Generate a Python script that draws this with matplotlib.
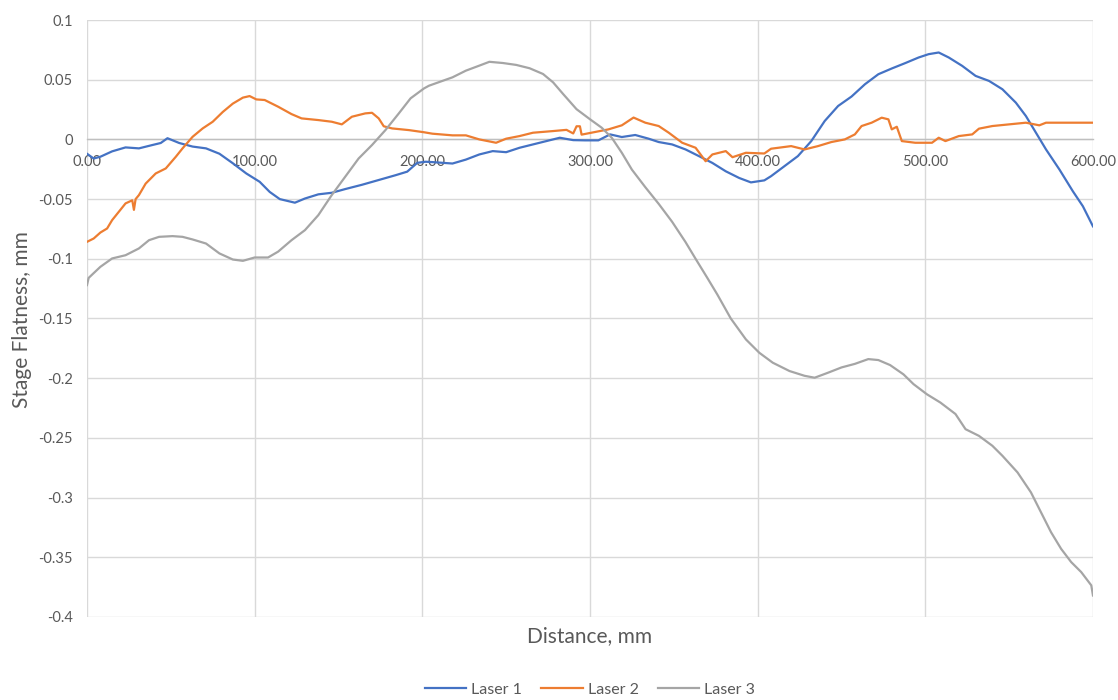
import matplotlib
matplotlib.use("Agg")
import matplotlib.pyplot as plt
from matplotlib.ticker import FixedLocator, FixedFormatter, FormatStrFormatter

plt.rcParams['font.family'] = ['Lato', 'DejaVu Sans']

# Laser 1 profile (distance mm, deviation mm)
laser1_x = [0, 4, 8, 15, 23, 31, 39, 44, 48, 55, 63, 71, 79, 87, 95, 103, 109, 115,
            124, 130, 138, 146, 154, 164, 174, 184, 191, 197, 202, 206, 218, 226, 234,
            242, 250, 258, 266, 274, 282, 290, 297, 305, 312, 319, 327, 335, 341, 349,
            357, 365, 373, 381, 389, 396, 404, 408, 416, 424, 432, 440, 448, 456, 464,
            472, 480, 488, 496, 502, 508, 514, 522, 530, 538, 546, 554, 560, 566, 572,
            580, 588, 594, 600]
laser1_y = [-0.012, -0.016, -0.0145, -0.010, -0.0067, -0.0075, -0.0047, -0.003, 0.001,
            -0.003, -0.006, -0.0075, -0.012, -0.020, -0.0285, -0.0355, -0.044, -0.050,
            -0.053, -0.0495, -0.046, -0.0447, -0.0416, -0.038, -0.034, -0.030, -0.027,
            -0.0196, -0.0187, -0.019, -0.0202, -0.0169, -0.0126, -0.0098, -0.0107, -0.007,
            -0.0042, -0.0014, 0.0014, -0.0006, -0.0008, -0.0008, 0.0042, 0.002, 0.0037,
            0.0006, -0.0022, -0.0042, -0.0084, -0.014, -0.0197, -0.0267, -0.0323, -0.036,
            -0.0343, -0.0308, -0.0224, -0.014, -0.0014, 0.0154, 0.028, 0.0359, 0.0462,
            0.0546, 0.0594, 0.0639, 0.0686, 0.0714, 0.0728, 0.0686, 0.0616, 0.0532, 0.049,
            0.042, 0.0308, 0.0196, 0.0056, -0.0084, -0.0252, -0.0434, -0.056, -0.0728]

# Laser 2 profile
laser2_x = [0, 4, 8, 12, 15, 19, 23, 27, 28, 29, 31, 35, 41, 47, 53, 57, 63, 69, 75, 81,
            87, 93, 97, 101, 106, 114, 122, 128, 138, 146, 152, 158, 166, 170, 174, 177,
            182, 192, 201, 206, 218, 226, 234, 244, 250, 258, 266, 278, 286, 290, 292,
            294, 295, 303, 311, 319, 326, 333, 341, 347, 355, 363, 369, 373, 381, 385,
            393, 404, 408, 420, 428, 436, 444, 452, 458, 462, 468, 474, 478, 480, 483,
            486, 494, 504, 508, 512, 520, 528, 532, 540, 550, 560, 568, 572, 584, 600]
laser2_y = [-0.0858, -0.083, -0.078, -0.0746, -0.0676, -0.0606, -0.0536, -0.051, -0.059,
            -0.050, -0.0466, -0.037, -0.0285, -0.0243, -0.0145, -0.0075, 0.0022, 0.0092,
            0.0148, 0.023, 0.030, 0.035, 0.0363, 0.0335, 0.033, 0.0274, 0.0212, 0.0176,
            0.0162, 0.0148, 0.0126, 0.019, 0.0218, 0.0223, 0.0176, 0.011, 0.0092, 0.0078,
            0.006, 0.0048, 0.0034, 0.0034, 0.0, -0.0028, 0.0006, 0.0028, 0.0056, 0.007,
            0.008, 0.005, 0.011, 0.011, 0.004, 0.0062, 0.0084, 0.0118, 0.0183, 0.014,
            0.0112, 0.0056, -0.0028, -0.007, -0.0183, -0.0126, -0.0098, -0.0149, -0.0112,
            -0.0118, -0.0078, -0.0056, -0.0084, -0.0056, -0.0022, 0.0, 0.0042, 0.0112,
            0.014, 0.0182, 0.0168, 0.0084, 0.0106, -0.0014, -0.0028, -0.0028, 0.0014,
            -0.0014, 0.0028, 0.0042, 0.009, 0.0112, 0.0126, 0.014, 0.0118, 0.014, 0.014,
            0.014]

# Laser 3 profile
laser3_x = [0, 1, 4, 8, 15, 23, 31, 37, 43, 51, 57, 63, 71, 79, 87, 93, 100, 108, 114,
            122, 130, 138, 146, 154, 162, 170, 178, 186, 193, 201, 204, 212, 218, 226,
            234, 240, 248, 256, 264, 272, 278, 284, 292, 300, 307, 313, 319, 325, 333,
            341, 349, 357, 363, 370, 376, 384, 393, 401, 409, 419, 428, 434, 442, 450,
            458, 466, 472, 479, 487, 493, 501, 509, 518, 524, 532, 540, 546, 555, 563,
            569, 575, 581, 587, 593, 599, 600]
laser3_y = [-0.122, -0.116, -0.112, -0.1067, -0.0997, -0.097, -0.0913, -0.0844, -0.0816,
            -0.081, -0.0816, -0.0838, -0.0872, -0.0955, -0.1006, -0.1017, -0.0989, -0.0989,
            -0.094, -0.0844, -0.076, -0.0634, -0.0466, -0.0313, -0.016, -0.0047, 0.0078,
            0.0218, 0.0344, 0.0427, 0.045, 0.049, 0.052, 0.0576, 0.0618, 0.065, 0.064,
            0.0624, 0.0596, 0.0548, 0.0478, 0.038, 0.0253, 0.0169, 0.0098, 0.0014, -0.0112,
            -0.0253, -0.0400, -0.054, -0.069, -0.086, -0.100, -0.116, -0.130, -0.150,
            -0.1675, -0.1787, -0.187, -0.194, -0.198, -0.1996, -0.1954, -0.191, -0.188,
            -0.184, -0.1848, -0.189, -0.1968, -0.205, -0.2135, -0.2204, -0.230, -0.2427,
            -0.2483, -0.2566, -0.265, -0.2789, -0.2956, -0.3123, -0.329, -0.3429, -0.354,
            -0.3624, -0.3735, -0.382]

series_names = ["Laser 1", "Laser 2", "Laser 3"]
series_colors = ["#4472C4", "#ED7D31", "#A5A5A5"]

x_ticks = [0, 100, 200, 300, 400, 500, 600]
y_ticks = [-0.4, -0.35, -0.3, -0.25, -0.2, -0.15, -0.1, -0.05, 0, 0.05, 0.1]
y_tick_labels = ["-0.4", "-0.35", "-0.3", "-0.25", "-0.2", "-0.15", "-0.1", "-0.05",
                 "0", "0.05", "0.1"]

fig = plt.figure(figsize=(11.18, 7.0), dpi=100)
ax = fig.add_axes([0.0778, 0.1186, 0.8998, 0.8528])

for xs, ys, name, color in zip([laser1_x, laser2_x, laser3_x],
                               [laser1_y, laser2_y, laser3_y],
                               series_names, series_colors):
    ax.plot(xs, ys, color=color, linewidth=1.6, label=name, zorder=3)

ax.set_xlim(0, 600)
ax.set_ylim(-0.4, 0.1)

ax.xaxis.set_major_locator(FixedLocator(x_ticks))
ax.xaxis.set_major_formatter(FormatStrFormatter('%.2f'))
ax.yaxis.set_major_locator(FixedLocator(y_ticks))
ax.yaxis.set_major_formatter(FixedFormatter(y_tick_labels))

ax.grid(True, color="#D9D9D9", linewidth=1.0, zorder=0)
ax.set_axisbelow(True)

for side in ["top", "right", "left"]:
    ax.spines[side].set_visible(False)
ax.spines["bottom"].set_position(("data", 0))
ax.spines["bottom"].set_color("#BFBFBF")
ax.spines["bottom"].set_linewidth(1.0)
ax.spines["bottom"].set_zorder(1)

ax.tick_params(axis="x", length=0, pad=11, labelsize=10.5, labelcolor="#595959")
ax.tick_params(axis="y", length=0, pad=10, labelsize=10.5, labelcolor="#595959")

fig.text(0.5277, 0.091, "Distance, mm", ha="center", va="center",
         fontsize=15, color="#595959")
fig.text(0.0197, 0.543, "Stage Flatness, mm", ha="center", va="center",
         rotation=90, fontsize=15, color="#595959")

leg = fig.legend(loc="center", bbox_to_anchor=(0.5277, 0.0143), ncol=3, frameon=False,
                 fontsize=11.5, handlelength=2.6, columnspacing=1.2, handletextpad=0.3)
for text in leg.get_texts():
    text.set_color("#595959")

fig.savefig("out.png", dpi=100)
